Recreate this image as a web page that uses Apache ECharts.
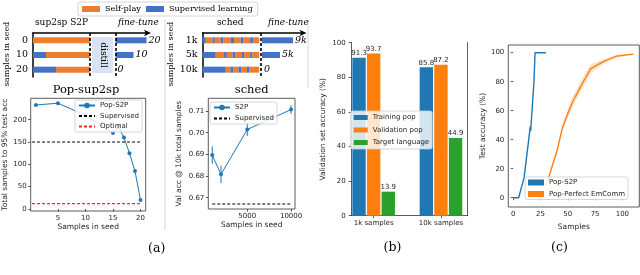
<!DOCTYPE html>
<html><head><meta charset="utf-8">
<script src="https://cdn.jsdelivr.net/npm/echarts@6/dist/echarts.min.js"></script>
<style>html,body{margin:0;padding:0;background:#fff}#c{width:640px;height:275px}</style>
</head><body><div id="c"></div>
<script>
// ---------------- data ----------------
// schematic (a) left : Pop-sup2sp
const sup2spRows = ['0', '10', '20'];
const sup2spSeed = [0, 13, 23];
const sup2spSelfPlay = [57, 44, 34];
const sup2spDistill = [25.5, 25.5, 25.5];
const sup2spFinetune = [31, 18, 0];
const sup2spFinetuneLabels = ['20', '10', '0'];
// schematic (a) right : sched (alternating supervised / self-play segments)
const schedRows = ['1k', '5k', '10k'];
const sched1k = [3.3, 6.7, 2.3, 6, 2.7, 7.3, 3.3, 6.7, 2.7, 6.7, 2.7, 6.3];
const sched5k = [13.3, 8.3, 2.7, 5.7, 2.7, 6.3, 2.7, 6, 2.3, 6.7, 0, 0];
const sched10k = [23.3, 4.7, 2.7, 5.3, 2.7, 5.7, 2.7, 9.6, 0, 0, 0, 0];
const schedGap = [2.8, 2.8, 2.8];
const schedFinetune = [31, 18, 0];
const schedFinetuneLabels = ['9k', '5k', '0'];
// (a) Pop-sup2sp
const popSeed = [1, 5, 10, 15, 16, 17, 18, 19, 20];
const popS2P = [233, 237, 210, 170, 184, 160, 125, 85, 20];
const popSupervised = 150;
const popOptimal = 12;
const popRefSpan = [0.3, 20];
// (a) sched
const schedSeed = [1000, 2000, 5000, 10000];
const schedAcc = [0.6897, 0.6808, 0.7015, 0.7107];
const schedErr = [0.004, 0.004, 0.003, 0.002];
const schedSupervised = 0.6671;
// (b)
const bCats = ['1k samples', '10k samples'];
const trainingPop = [91.3, 85.8];
const validationPop = [93.7, 87.2];
const targetLanguage = [13.9, 44.9];
// (c)
const s2pX = [0, 5, 10, 15, 15.5, 16, 19, 20, 30];
const s2pY = [0, 0, 14, 45, 49, 46, 80, 100, 100];
const emcX = [30, 35, 40, 45, 50, 55, 60, 65, 71, 83, 95, 110];
const emcY = [8, 20, 32, 48, 58, 67, 74, 81, 89, 94, 97.7, 99];
const emcLow = [7.5, 18.5, 30, 45.5, 55, 63.5, 70.5, 77.5, 86, 92.5, 96.7, 98.5];
const emcHigh = [8.5, 21.5, 34, 50.5, 61, 70.5, 77.5, 84.5, 92, 95.5, 98.7, 99.5];

// ---------------- styles ----------------
const BLUE_S = '#4472C4', ORANGE_S = '#ED7D31', LIGHT_S = '#DAE3F3';
const C0 = '#1f77b4', C1 = '#ff7f0e', C2 = '#2ca02c';
const SANS = 'DejaVu Sans', SERIF = 'DejaVu Serif';
const TXT = '#262626';
const plain = v => String(v);

function mplX(gi, min, max, ticks, name, gap) {
  return {type: 'value', gridIndex: gi, min, max,
    axisLine: {show: false},
    axisTick: {show: true, length: 2.5, customValues: ticks, lineStyle: {color: '#333', width: 0.8}},
    axisLabel: {customValues: ticks, fontSize: 7, color: TXT, margin: 4, fontFamily: SANS, formatter: plain},
    splitLine: {show: false},
    name, nameLocation: 'middle', nameGap: gap,
    nameTextStyle: {fontSize: 7.5, color: TXT, fontFamily: SANS}};
}
function mplY(gi, min, max, ticks, name, gap, fmt) {
  return {type: 'value', gridIndex: gi, min, max,
    axisLine: {show: false},
    axisTick: {show: true, length: 2.5, customValues: ticks, lineStyle: {color: '#333', width: 0.8}},
    axisLabel: {customValues: ticks, fontSize: 7, color: TXT, margin: 4, fontFamily: SANS, formatter: fmt || plain},
    splitLine: {show: false},
    name, nameLocation: 'middle', nameGap: gap,
    nameTextStyle: {fontSize: 7.5, color: TXT, fontFamily: SANS}};
}
function schemX(gi, max) {
  return {type: 'value', gridIndex: gi, min: 0, max, position: 'top',
    axisLine: {show: true, symbol: ['none', 'arrow'], symbolSize: [5, 7], symbolOffset: [0, 3], lineStyle: {color: '#000', width: 1.5}},
    axisTick: {show: false}, axisLabel: {show: false}, splitLine: {show: false}};
}
function schemY(gi, rows) {
  return {type: 'category', gridIndex: gi, data: rows, inverse: true,
    axisLine: {show: true, lineStyle: {color: '#000', width: 1.5}},
    axisTick: {show: false},
    axisLabel: {fontSize: 9.5, color: '#000', fontFamily: SERIF, margin: 5}};
}
const legBox = {backgroundColor: 'rgba(255,255,255,0.8)', borderColor: '#ccc', borderWidth: 0.8, borderRadius: 2};

// ---------------- series ----------------
const series = [];
// schematic left
series.push({name: 'Supervised learning', type: 'bar', stack: 'a', xAxisIndex: 0, yAxisIndex: 0, barWidth: 6, data: sup2spSeed, itemStyle: {color: BLUE_S}, silent: true});
series.push({name: 'Self-play', type: 'bar', stack: 'a', xAxisIndex: 0, yAxisIndex: 0, data: sup2spSelfPlay, itemStyle: {color: ORANGE_S}, silent: true});
const phaseEndA = sup2spSeed[0] + sup2spSelfPlay[0];
series.push({name: 'distill', type: 'bar', stack: 'a', xAxisIndex: 0, yAxisIndex: 0, data: sup2spDistill, itemStyle: {color: 'rgba(0,0,0,0)'}, silent: true,
  markLine: {silent: true, symbol: ['none', 'none'], label: {show: false}, lineStyle: {type: [3, 2], color: '#000', width: 1.6},
    data: [{xAxis: phaseEndA}, {xAxis: phaseEndA + sup2spDistill[0]}]}});
series.push({name: 'Supervised learning', type: 'bar', stack: 'a', xAxisIndex: 0, yAxisIndex: 0, data: sup2spFinetune, itemStyle: {color: BLUE_S}, silent: true,
  label: {show: true, position: 'right', distance: 2, formatter: p => sup2spFinetuneLabels[p.dataIndex], fontSize: 9.5, fontStyle: 'italic', fontFamily: SERIF, color: '#000'}});
// schematic right
for (let i = 0; i < sched1k.length; i++) {
  series.push({name: i % 2 === 0 ? 'Supervised learning' : 'Self-play', type: 'bar', stack: 'b', xAxisIndex: 1, yAxisIndex: 1, barWidth: 6,
    data: [sched1k[i], sched5k[i], sched10k[i]], itemStyle: {color: i % 2 === 0 ? BLUE_S : ORANGE_S}, silent: true});
}
const schedTotal = sched1k.reduce((a, b) => a + b, 0);
series.push({name: 'gap', type: 'bar', stack: 'b', xAxisIndex: 1, yAxisIndex: 1, data: schedGap, itemStyle: {color: 'rgba(0,0,0,0)'}, silent: true,
  markLine: {silent: true, symbol: ['none', 'none'], label: {show: false}, lineStyle: {type: [3, 2], color: '#000', width: 1.6},
    data: [{xAxis: schedTotal + schedGap[0] / 2}]}});
series.push({name: 'Supervised learning', type: 'bar', stack: 'b', xAxisIndex: 1, yAxisIndex: 1, data: schedFinetune, itemStyle: {color: BLUE_S}, silent: true,
  label: {show: true, position: 'right', distance: 2, formatter: p => schedFinetuneLabels[p.dataIndex], fontSize: 9.5, fontStyle: 'italic', fontFamily: SERIF, color: '#000'}});
// (a) Pop-sup2sp
series.push({name: 'Pop-S2P', type: 'line', xAxisIndex: 2, yAxisIndex: 2, data: popSeed.map((x, i) => [x, popS2P[i]]),
  symbol: 'circle', symbolSize: 4, showSymbol: true, itemStyle: {color: C0}, lineStyle: {color: C0, width: 1}, z: 3});
series.push({name: 'Supervised', type: 'line', xAxisIndex: 2, yAxisIndex: 2, data: popRefSpan.map(x => [x, popSupervised]),
  symbol: 'none', itemStyle: {color: '#000'}, lineStyle: {color: '#000', width: 1, type: [3, 2]}});
series.push({name: 'Optimal', type: 'line', xAxisIndex: 2, yAxisIndex: 2, data: popRefSpan.map(x => [x, popOptimal]),
  symbol: 'none', itemStyle: {color: '#ff2020'}, lineStyle: {color: '#ff2020', width: 1.2, type: [3, 2]}});
// (a) sched
series.push({name: 'S2P', type: 'line', xAxisIndex: 3, yAxisIndex: 3, data: schedSeed.map((x, i) => [x, schedAcc[i]]),
  symbol: 'circle', symbolSize: 4, itemStyle: {color: C0}, lineStyle: {color: C0, width: 1}, z: 3});
series.push({name: 'errS2P', type: 'custom', xAxisIndex: 3, yAxisIndex: 3, silent: true, z: 3,
  data: schedSeed.map((x, i) => [x, schedAcc[i], schedErr[i]]),
  renderItem: (params, api) => {
    const x = api.value(0), y = api.value(1), e = api.value(2);
    const p1 = api.coord([x, y - e]), p2 = api.coord([x, y + e]);
    return {type: 'line', shape: {x1: p1[0], y1: p1[1], x2: p2[0], y2: p2[1]}, style: {stroke: C0, lineWidth: 1}};
  }});
series.push({name: 'Supervised', type: 'line', xAxisIndex: 3, yAxisIndex: 3, data: [[schedSeed[0], schedSupervised], [schedSeed[3], schedSupervised]],
  symbol: 'none', itemStyle: {color: '#000'}, lineStyle: {color: '#000', width: 1, type: [3, 2]}});
// (b)
const barLabel = {show: true, position: 'top', distance: 1, fontSize: 7, color: TXT, fontFamily: SANS};
[['Training pop', trainingPop, C0], ['Validation pop', validationPop, C1], ['Target language', targetLanguage, C2]].forEach(([n, d, c]) => {
  series.push({name: n, type: 'bar', xAxisIndex: 5, yAxisIndex: 5, data: d, barWidth: 13.4, barGap: '9%',
    itemStyle: {color: c}, label: barLabel, silent: true});
});
// (c) band
series.push({name: 'emcBand', type: 'custom', xAxisIndex: 6, yAxisIndex: 6, silent: true, z: 1,
  data: [[emcX[0], emcY[0]]],
  renderItem: (params, api) => {
    const pts = [];
    for (let i = 0; i < emcX.length; i++) pts.push(api.coord([emcX[i], emcHigh[i]]));
    for (let i = emcX.length - 1; i >= 0; i--) pts.push(api.coord([emcX[i], emcLow[i]]));
    return {type: 'polygon', shape: {points: pts}, style: {fill: 'rgba(255,127,14,0.25)'}};
  }});
series.push({name: 'Pop-S2P ', type: 'line', xAxisIndex: 6, yAxisIndex: 6, data: s2pX.map((x, i) => [x, s2pY[i]]),
  symbol: 'none', itemStyle: {color: C0}, lineStyle: {color: C0, width: 1.4}, z: 3});
series.push({name: 'Pop-Perfect EmComm', type: 'line', xAxisIndex: 6, yAxisIndex: 6, data: emcX.map((x, i) => [x, emcY[i]]),
  symbol: 'none', itemStyle: {color: C1}, lineStyle: {color: C1, width: 1.3}, z: 3});

// ---------------- graphic ----------------
function txt(x, y, text, font, align, rot) {
  return {type: 'text', x, y, rotation: rot || 0, z: 10,
    style: {text, font, fill: '#000', textAlign: align || 'center', textVerticalAlign: 'middle', align: align || 'center', verticalAlign: 'middle'}};
}
const graphic = [
  {type: 'line', shape: {x1: 165, y1: 20, x2: 165, y2: 230}, style: {stroke: '#d4d4d4', lineWidth: 1}},
  {type: 'line', shape: {x1: 308, y1: 20, x2: 308, y2: 88}, style: {stroke: '#d4d4d4', lineWidth: 1}},
  {type: 'rect', shape: {x: 92, y: 37, width: 21, height: 36}, style: {fill: LIGHT_S}, z: 0},
  txt(103, 55, 'distill', '9px "DejaVu Serif"', 'center', -Math.PI / 2),
  txt(7, 54, 'samples in seed', '8px "DejaVu Serif"', 'center', Math.PI / 2),
  txt(171, 54, 'samples in seed', '8px "DejaVu Serif"', 'center', Math.PI / 2),
  txt(35, 23, 'sup2sp S2P', '9px "DejaVu Serif"', 'left'),
  txt(118, 23, 'fine-tune', 'italic 9px "DejaVu Serif"', 'left'),
  txt(217, 23, 'sched', '9px "DejaVu Serif"', 'left'),
  txt(268, 23, 'fine-tune', 'italic 9px "DejaVu Serif"', 'left'),
  txt(86, 90, 'Pop-sup2sp', '11.5px "DejaVu Serif"', 'center'),
  txt(251.7, 90, 'sched', '11.5px "DejaVu Serif"', 'center'),
  txt(156.7, 249, '(a)', '12.5px "DejaVu Serif"', 'center'),
  txt(392.5, 248, '(b)', '12.5px "DejaVu Serif"', 'center'),
  txt(559.5, 248, '(c)', '12.5px "DejaVu Serif"', 'center')
];

const dashedLegend = name => ({name, lineStyle: {type: [3, 2]}, itemStyle: {opacity: 0}});

const option = {
  animation: false,
  backgroundColor: '#fff',
  grid: [
    {left: 33, top: 33, width: 115, height: 44},
    {left: 202.5, top: 33, width: 101, height: 44},
    {left: 30.7, top: 98.3, width: 115, height: 112.7, show: true, borderColor: '#333', borderWidth: 0.8},
    {left: 208.3, top: 98.3, width: 86.7, height: 110.7, show: true, borderColor: '#333', borderWidth: 0.8},
    {left: 351.7, top: 42.7, width: 116, height: 173},
    {left: 340, top: 42.7, width: 134.6, height: 173},
    {left: 508.3, top: 45, width: 131, height: 162, show: true, borderColor: '#333', borderWidth: 0.8}
  ],
  xAxis: [
    schemX(0, 115),
    schemX(1, 101),
    mplX(2, 0.05, 20.95, [5, 10, 15, 20], 'Samples in seed', 11),
    mplX(3, 550, 10450, [5000, 10000], 'Samples in seed', 12),
    {type: 'value', gridIndex: 4, min: 0, max: 1, axisLine: {show: true, lineStyle: {color: '#333', width: 0.8}}, axisTick: {show: false}, axisLabel: {show: false}, splitLine: {show: false}},
    {type: 'category', gridIndex: 5, data: bCats, axisLine: {show: false},
      axisTick: {show: true, alignWithLabel: true, length: 2.5, lineStyle: {color: '#333', width: 0.8}},
      axisLabel: {fontSize: 7, color: TXT, margin: 4, fontFamily: SANS}},
    mplX(6, -4.5, 115.5, [0, 25, 50, 75, 100], 'Samples', 11)
  ],
  yAxis: [
    schemY(0, sup2spRows),
    schemY(1, schedRows),
    mplY(2, -4.5, 248, [0, 50, 100, 150, 200], 'Total samples to 95% test acc', 18.6),
    mplY(3, 0.6648, 0.7159, [0.67, 0.68, 0.69, 0.70, 0.71], 'Val acc @ 10k total samples', 25.5, v => v.toFixed(2)),
    {type: 'value', gridIndex: 4, min: 0, max: 100, interval: 20,
      axisLine: {show: true, lineStyle: {color: '#333', width: 0.8}},
      axisTick: {show: true, length: 3, lineStyle: {color: '#333', width: 0.8}},
      axisLabel: {fontSize: 7, color: TXT, margin: 6, fontFamily: SANS}, splitLine: {show: false},
      name: 'Validation set accuracy (%)', nameLocation: 'middle', nameGap: 24.4,
      nameTextStyle: {fontSize: 7.5, color: TXT, fontFamily: SANS}},
    {type: 'value', gridIndex: 5, min: 0, max: 100, show: false},
    mplY(6, -6.4, 105.3, [0, 20, 40, 60, 80, 100], 'Test accuracy (%)', 21.3),
    {type: 'value', gridIndex: 4, min: 0, max: 100, position: 'right',
      axisLine: {show: true, lineStyle: {color: '#333', width: 0.8}}, axisTick: {show: false}, axisLabel: {show: false}, splitLine: {show: false}}
  ],
  legend: [
    Object.assign({left: 78, top: 2, padding: [3, 5, 3, 4], itemWidth: 18, itemHeight: 6, itemGap: 5, icon: 'rect',
      data: ['Self-play', 'Supervised learning'], textStyle: {fontSize: 8.2, fontFamily: SERIF, color: '#000'}, selectedMode: false}, legBox),
    Object.assign({left: 75, top: 100, orient: 'vertical', padding: [2, 3, 2, 3], itemWidth: 16, itemHeight: 7, itemGap: 3.5,
      data: [{name: 'Pop-S2P'}, dashedLegend('Supervised'), dashedLegend('Optimal')],
      textStyle: {fontSize: 7, fontFamily: SANS, color: TXT}, selectedMode: false}, legBox),
    Object.assign({left: 210, top: 102, orient: 'vertical', padding: [2, 3, 2, 3], itemWidth: 16, itemHeight: 7, itemGap: 4,
      data: [{name: 'S2P'}, dashedLegend('Supervised')],
      textStyle: {fontSize: 7, fontFamily: SANS, color: TXT}, selectedMode: false}, legBox),
    Object.assign({left: 350.7, top: 111, orient: 'vertical', padding: [3, 3, 3, 3], itemWidth: 14, itemHeight: 5, itemGap: 5.5, icon: 'rect',
      data: ['Training pop', 'Validation pop', 'Target language'],
      textStyle: {fontSize: 7, fontFamily: SANS, color: TXT}, selectedMode: false}, legBox),
    Object.assign({left: 525, top: 177, orient: 'vertical', padding: [2, 3, 2, 3], itemWidth: 16, itemHeight: 6, itemGap: 4.5, icon: 'rect',
      data: ['Pop-S2P ', 'Pop-Perfect EmComm'],
      textStyle: {fontSize: 7, fontFamily: SANS, color: TXT}, selectedMode: false}, legBox)
  ],
  graphic,
  series
};
const chart = echarts.init(document.getElementById('c'), null, {renderer: 'canvas'});
chart.setOption(option);
</script>
</body></html>
